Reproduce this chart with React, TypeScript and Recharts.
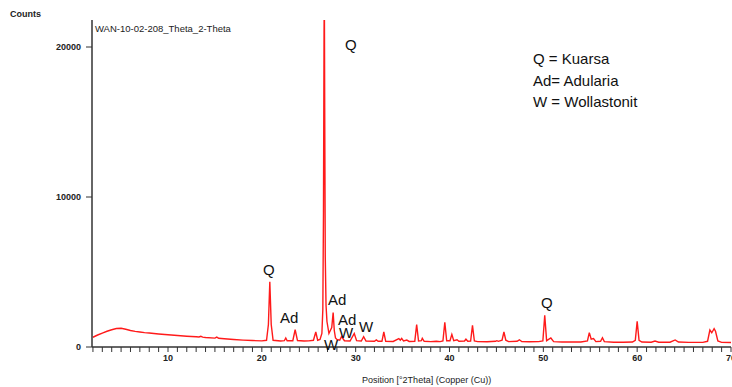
import { LineChart, Line, XAxis, YAxis } from 'recharts';

// 2-theta positions (deg) and intensities (counts)
const theta = [
  2.0, 2.5, 3.0, 3.5, 4.0, 4.5, 5.0, 5.5, 6.0, 6.5, 7.0, 7.5, 8.0, 9.0, 10.0, 11.0, 12.0, 13.0,
  13.3, 13.5, 13.7, 14.0, 15.0, 15.2, 15.4, 16.0, 17.0, 18.0, 19.0, 20.0, 20.5, 20.7, 20.85, 21.0,
  21.2, 22.0, 22.4, 22.55, 22.7, 23.3, 23.55, 23.8, 24.5, 25.0, 25.5, 25.75, 25.95, 26.2, 26.4,
  26.5, 26.57, 26.63, 26.66, 26.7, 26.76, 26.84, 26.94, 27.02, 27.15, 27.3, 27.45, 27.6, 27.72,
  27.85, 28.0, 28.3, 28.5, 28.8, 29.4, 29.85, 30.1, 30.6, 30.85, 31.1, 32.0, 32.2, 32.4, 32.8,
  33.0, 33.2, 34.0, 34.6, 34.75, 34.9, 35.1, 35.45, 35.7, 36.3, 36.5, 36.7, 37.0, 37.1, 37.3,
  38.0, 38.6, 39.0, 39.3, 39.5, 39.7, 40.05, 40.25, 40.45, 40.8, 41.0, 41.6, 41.75, 41.95, 42.25,
  42.45, 42.65, 43.0, 44.0, 44.9, 45.05, 45.2, 45.6, 45.8, 46.0, 46.3, 47.2, 47.45, 47.7, 48.5,
  49.5, 49.95, 50.15, 50.35, 50.8, 51.1, 52.0, 53.0, 54.0, 54.7, 54.9, 55.1, 55.35, 55.6, 56.1,
  56.3, 56.5, 57.5, 58.5, 59.5, 59.8, 60.0, 60.2, 60.5, 61.5, 61.9, 62.3, 63.5, 64.05, 64.4, 65.5,
  67.0, 67.5, 67.75, 67.95, 68.2, 68.35, 68.6, 69.0, 70.0,
];

const counts = [
  650, 800, 930, 1050, 1150, 1230, 1250, 1180, 1100, 1040, 1000, 960, 930, 870, 820, 770, 720, 680,
  670, 710, 660, 630, 590, 660, 580, 550, 500, 460, 430, 410, 450, 1500, 4350, 1500,
  450, 400, 420, 600, 420, 420, 1150, 430, 400, 410, 450, 1000, 450, 500, 900,
  2500, 9000, 21000, 24000, 16000, 6000, 2800, 1700, 1400, 900, 1100, 1300, 2300, 1100,
  600, 500, 450, 700, 420, 400, 900, 420, 400, 690, 400, 380, 470, 380, 380,
  1000, 380, 370, 560, 450, 570, 400, 460, 370, 380, 1490, 400, 420, 580, 380,
  360, 380, 360, 400, 1640, 420, 420, 840, 420, 480, 380, 400, 520, 380, 400,
  1440, 400, 360, 350, 380, 420, 380, 450, 1000, 450, 360, 380, 480, 370, 350,
  360, 400, 2110, 420, 600, 360, 330, 330, 330, 400, 960, 520, 560, 360, 380,
  620, 360, 320, 320, 330, 450, 1710, 450, 330, 320, 400, 320, 320, 470, 330, 310,
  310, 380, 1130, 950, 1220, 1050, 400, 310, 300,
];

const xTicks = Array.from({ length: 69 }, (_, i) => i + 2);
const yTicks = [0, 10000, 20000];

const legendLines = ['Q = Kuarsa', 'Ad= Adularia', 'W = Wollastonit'];

const peakLabels = [
  { text: 'Q', left: 345, top: 36 },
  { text: 'Q', left: 263, top: 261 },
  { text: 'Ad', left: 280, top: 309 },
  { text: 'Ad', left: 328, top: 291 },
  { text: 'Ad', left: 338, top: 311 },
  { text: 'W', left: 339, top: 324 },
  { text: 'W', left: 359, top: 318 },
  { text: 'W', left: 324, top: 336 },
  { text: 'Q', left: 541, top: 294 },
];

const data = theta.map((t, i) => ({ theta: t, counts: counts[i] }));

const axisColor = '#333';
const font = '"Liberation Sans", Arial, sans-serif';

export default function App() {
  return (
    <div style={{ position: 'absolute', left: 0, top: 0, width: 732, height: 387, background: '#fff', fontFamily: font }}>
      <LineChart width={732} height={387} data={data} margin={{ top: 20, right: 1, bottom: 0, left: 0 }}>
        <XAxis
          xAxisId="b"
          type="number"
          dataKey="theta"
          domain={[1.9, 70]}
          allowDataOverflow
          ticks={xTicks}
          interval={0}
          tickFormatter={(v: number) => (v % 10 === 0 ? String(v) : '')}
          height={40}
          tickSize={5}
          tickMargin={3}
          tickLine={{ stroke: axisColor }}
          axisLine={{ stroke: axisColor, strokeWidth: 1.5 }}
          tick={{ fontSize: 9, fontWeight: 'bold', fill: '#222', fontFamily: font }}
        />
        <XAxis
          xAxisId="t"
          orientation="top"
          type="number"
          dataKey="theta"
          domain={[1.9, 70]}
          allowDataOverflow
          height={0}
          tick={false}
          tickLine={false}
          axisLine={{ stroke: axisColor, strokeWidth: 2 }}
        />
        <YAxis
          yAxisId="l"
          type="number"
          domain={[0, 21800]}
          allowDataOverflow
          ticks={yTicks}
          interval={0}
          width={92}
          tickSize={6}
          tickMargin={5}
          tickLine={{ stroke: axisColor }}
          axisLine={{ stroke: axisColor, strokeWidth: 1.5 }}
          tick={{ fontSize: 9, fontWeight: 'bold', fill: '#222', fontFamily: font }}
        />
        <YAxis
          yAxisId="r"
          orientation="right"
          type="number"
          domain={[0, 21800]}
          allowDataOverflow
          width={0}
          tick={false}
          tickLine={false}
          axisLine={{ stroke: axisColor, strokeWidth: 2 }}
        />
        <Line
          xAxisId="b"
          yAxisId="l"
          type="linear"
          dataKey="counts"
          stroke="#ff1a1a"
          strokeWidth={1.4}
          dot={false}
          isAnimationActive={false}
        />
      </LineChart>

      <div style={{ position: 'absolute', left: 10, top: 9, fontSize: 9, fontWeight: 'bold', color: '#222' }}>Counts</div>
      <div style={{ position: 'absolute', left: 95, top: 23, fontSize: 9.5, color: '#222' }}>WAN-10-02-208_Theta_2-Theta</div>
      <div style={{ position: 'absolute', left: 362, top: 375, fontSize: 9, color: '#222' }}>Position [°2Theta] (Copper (Cu))</div>

      {legendLines.map((t, i) => (
        <div key={t} style={{ position: 'absolute', left: 533, top: 50 + i * 21.5, fontSize: 15, color: '#111', whiteSpace: 'nowrap' }}>
          {t}
        </div>
      ))}

      {peakLabels.map((p, i) => (
        <div key={i} style={{ position: 'absolute', left: p.left, top: p.top, fontSize: 15, color: '#111', lineHeight: '18px' }}>
          {p.text}
        </div>
      ))}
    </div>
  );
}
